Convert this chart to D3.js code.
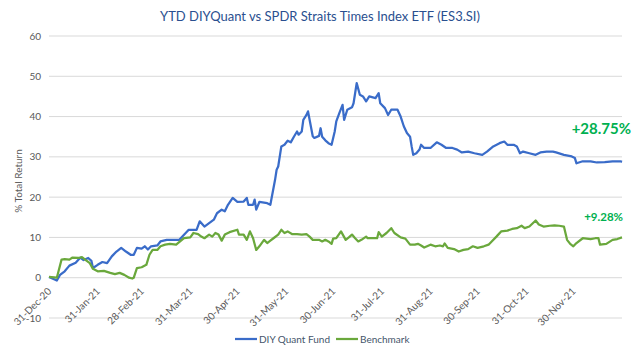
<!doctype html>
<html>
  <head>
    <script src="https://d3js.org/d3.v7.min.js"></script>
    <style>
      body { margin: 0; background: #fff; }
      text { font-family: Lato, "Open Sans", sans-serif; }
    </style>
  </head>
  <body>
    <svg id="chart" width="639" height="352"></svg>
    <script>
      // fund series (date, % total return)
      var fundDates = ["2020-12-31","2021-01-05","2021-01-07","2021-01-10","2021-01-13","2021-01-17","2021-01-20","2021-01-22","2021-01-25","2021-01-27","2021-01-28","2021-01-31",
        "2021-02-03","2021-02-06","2021-02-09","2021-02-12","2021-02-15","2021-02-18","2021-02-21","2021-02-23","2021-02-25","2021-02-28",
        "2021-03-02","2021-03-04","2021-03-06","2021-03-10","2021-03-12","2021-03-16","2021-03-20","2021-03-24","2021-03-30",
        "2021-04-04","2021-04-06","2021-04-09","2021-04-15","2021-04-17","2021-04-20","2021-04-22","2021-04-24","2021-04-27","2021-04-30",
        "2021-05-04","2021-05-06","2021-05-07","2021-05-10","2021-05-11","2021-05-12","2021-05-14","2021-05-19","2021-05-21","2021-05-24","2021-05-25","2021-05-26","2021-05-28","2021-05-30",
        "2021-06-01","2021-06-03","2021-06-05","2021-06-07","2021-06-08","2021-06-10","2021-06-11","2021-06-13","2021-06-14","2021-06-15","2021-06-17","2021-06-18","2021-06-21","2021-06-22","2021-06-23","2021-06-25","2021-06-27","2021-06-29",
        "2021-07-01","2021-07-02","2021-07-04","2021-07-06","2021-07-07","2021-07-09","2021-07-12","2021-07-13","2021-07-14","2021-07-15","2021-07-17","2021-07-19","2021-07-21","2021-07-23","2021-07-27","2021-07-29","2021-07-30",
        "2021-08-02","2021-08-04","2021-08-06","2021-08-10","2021-08-12","2021-08-14","2021-08-16","2021-08-18","2021-08-19","2021-08-20","2021-08-22","2021-08-24","2021-08-25","2021-08-27","2021-08-31",
        "2021-09-04","2021-09-07","2021-09-10","2021-09-14","2021-09-17","2021-09-20","2021-09-24","2021-09-28",
        "2021-10-03","2021-10-06","2021-10-10","2021-10-14","2021-10-17","2021-10-19","2021-10-23","2021-10-25","2021-10-27","2021-10-29",
        "2021-11-02","2021-11-06","2021-11-09","2021-11-13","2021-11-17","2021-11-19","2021-11-24","2021-11-29",
        "2021-12-01","2021-12-02","2021-12-06","2021-12-11","2021-12-15","2021-12-20","2021-12-25","2021-12-30","2021-12-31"];
      var fundValues = [0.2,-0.7,0.7,1.6,3.0,3.7,5.0,4.4,4.9,4.2,2.4,3.2,
        3.9,3.6,5.3,6.5,7.4,6.5,5.7,5.7,7.4,7.2,
        7.8,7.0,7.8,8.0,9.0,9.4,9.4,9.4,11.9,
        11.9,14.0,12.7,14.4,16.0,16.9,16.5,18.1,19.8,18.8,
        18.9,19.8,18.1,18.1,19.4,16.9,18.8,18.5,18.1,24.3,26.8,27.6,32.6,33.0,
        34.0,33.6,35.0,36.3,35.5,36.3,39.2,40.4,41.3,39.2,35.1,34.7,35.2,37.1,35.0,34.1,33.4,33.0,
        36.3,38.8,40.9,42.9,39.2,41.7,42.3,43.3,45.8,48.3,45.4,45.0,43.8,45.0,44.6,45.8,43.3,
        42.1,40.4,41.7,41.7,40.0,37.6,35.9,35.0,32.6,30.5,30.9,31.8,33.0,32.2,32.2,
        33.6,33.0,32.2,32.2,31.8,31.1,31.3,30.9,
        30.5,31.3,32.6,33.4,33.8,33.0,33.0,32.6,30.9,31.3,
        30.9,30.5,31.1,31.3,31.3,31.1,30.5,30.1,
        29.7,28.4,28.9,28.9,28.6,28.7,28.9,28.9,28.75];

      // benchmark series (date, % total return)
      var benchDates = ["2020-12-31","2021-01-05","2021-01-08","2021-01-10","2021-01-13","2021-01-15","2021-01-19","2021-01-21","2021-01-23","2021-01-26","2021-01-28","2021-01-31",
        "2021-02-04","2021-02-08","2021-02-11","2021-02-14","2021-02-17","2021-02-20","2021-02-22","2021-02-23","2021-02-25","2021-02-28",
        "2021-03-03","2021-03-05","2021-03-07","2021-03-10","2021-03-12","2021-03-15","2021-03-18","2021-03-22","2021-03-27","2021-03-31",
        "2021-04-02","2021-04-05","2021-04-07","2021-04-09","2021-04-12","2021-04-14","2021-04-16","2021-04-18","2021-04-20","2021-04-22","2021-04-25","2021-04-30",
        "2021-05-01","2021-05-04","2021-05-06","2021-05-08","2021-05-10","2021-05-12","2021-05-14","2021-05-17","2021-05-19","2021-05-21","2021-05-23","2021-05-26","2021-05-28","2021-05-30",
        "2021-06-01","2021-06-04","2021-06-07","2021-06-10","2021-06-13","2021-06-15","2021-06-17","2021-06-21","2021-06-23","2021-06-25","2021-06-27","2021-06-29","2021-06-30",
        "2021-07-02","2021-07-05","2021-07-08","2021-07-10","2021-07-12","2021-07-14","2021-07-16","2021-07-18","2021-07-21","2021-07-22","2021-07-28","2021-07-29","2021-07-31",
        "2021-08-03","2021-08-06","2021-08-08","2021-08-12","2021-08-15","2021-08-18","2021-08-21","2021-08-23","2021-08-25","2021-08-27","2021-08-31",
        "2021-09-03","2021-09-06","2021-09-08","2021-09-09","2021-09-11","2021-09-15","2021-09-18","2021-09-21","2021-09-24","2021-09-27","2021-09-30",
        "2021-10-04","2021-10-07","2021-10-09","2021-10-12","2021-10-15","2021-10-19","2021-10-22","2021-10-25","2021-10-28","2021-10-30",
        "2021-11-02","2021-11-06","2021-11-08","2021-11-11","2021-11-15","2021-11-18","2021-11-21","2021-11-24","2021-11-26","2021-11-28","2021-11-30",
        "2021-12-02","2021-12-06","2021-12-11","2021-12-14","2021-12-16","2021-12-17","2021-12-21","2021-12-25","2021-12-28","2021-12-31"];
      var benchValues = [0.2,0.0,4.5,4.6,4.5,5.0,4.9,5.1,4.5,3.6,2.2,1.6,
        1.7,1.2,0.9,1.2,0.7,0.0,-0.2,0.0,2.4,2.6,
        3.2,5.7,6.9,6.9,7.8,8.2,8.4,8.2,9.8,10.0,
        11.1,10.8,10.2,9.8,10.7,10.2,11.1,10.7,9.2,10.7,11.3,11.9,
        10.7,10.7,9.4,11.5,9.8,6.9,7.8,9.4,8.6,9.2,9.8,10.7,11.9,11.1,
        11.5,10.8,10.8,10.7,10.8,10.2,9.4,9.4,9.0,9.4,9.0,8.4,9.7,
        9.8,11.5,9.4,10.0,10.7,9.8,9.0,9.4,10.2,9.8,9.8,11.3,10.2,
        11.1,12.3,11.1,10.0,9.7,8.2,8.2,8.4,8.0,7.5,8.2,
        7.8,8.0,7.8,8.5,7.4,7.1,6.5,6.9,7.1,7.8,7.4,
        7.8,8.2,9.0,10.2,11.5,11.7,12.1,12.3,12.9,12.3,
        12.7,14.2,13.2,12.7,12.9,13.0,12.9,12.7,9.4,8.4,7.8,
        8.6,9.8,9.6,9.8,9.8,8.2,8.4,9.4,9.6,10.0];

      var yTicks = [-10, 0, 10, 20, 30, 40, 50, 60];
      var xTickDates = ["2020-12-31","2021-01-31","2021-02-28","2021-03-31","2021-04-30","2021-05-31","2021-06-30","2021-07-31","2021-08-31","2021-09-30","2021-10-31","2021-11-30"];
      var xTickLabels = ["31-Dec-20","31-Jan-21","28-Feb-21","31-Mar-21","30-Apr-21","31-May-21","30-Jun-21","31-Jul-21","31-Aug-21","30-Sep-21","31-Oct-21","30-Nov-21"];
      var seriesNames = ["DIY Quant Fund", "Benchmark"];
      var seriesColors = ["#3a6cc9", "#6aa83c"];
      var endLabels = ["+28.75%", "+9.28%"];

      var parse = d3.timeParse("%Y-%m-%d");
      var svg = d3.select("#chart");

      var x = d3.scaleTime()
        .domain([parse("2020-12-31"), parse("2021-12-31")])
        .range([49, 622]);
      var y = d3.scaleLinear()
        .domain([-10, 60])
        .range([318, 36]);

      // title
      svg.append("text")
        .attr("x", 320).attr("y", 21)
        .attr("text-anchor", "middle")
        .style("font-size", "13px")
        .style("fill", "#2a4f8f")
        .text("YTD DIYQuant vs SPDR Straits Times Index ETF (ES3.SI)");

      // gridlines
      svg.append("g").selectAll("line")
        .data(yTicks).enter().append("line")
          .attr("x1", 49).attr("x2", 622)
          .attr("y1", function(d) { return y(d) })
          .attr("y2", function(d) { return y(d) })
          .attr("stroke", "#d9d9d9").attr("stroke-width", 1);

      // y labels
      svg.append("g").selectAll("text")
        .data(yTicks).enter().append("text")
          .attr("x", 41)
          .attr("y", function(d) { return y(d) + 3.5 })
          .attr("text-anchor", "end")
          .style("font-size", "10px")
          .style("fill", "#595959")
          .text(function(d) { return d });

      svg.append("text")
        .attr("transform", "translate(22,181) rotate(-90)")
        .attr("text-anchor", "middle")
        .style("font-size", "10px")
        .style("fill", "#595959")
        .text("% Total Return");

      // x labels, rotated
      svg.append("g").selectAll("text")
        .data(xTickDates).enter().append("text")
          .attr("transform", function(d) { return "translate(" + (x(parse(d)) + 3) + ",292) rotate(-45)" })
          .attr("text-anchor", "end")
          .style("font-size", "10px")
          .style("fill", "#595959")
          .text(function(d, i) { return xTickLabels[i] });

      // lines
      var line = d3.line()
        .x(function(d) { return x(d.date) })
        .y(function(d) { return y(d.value) });

      var series = [
        fundDates.map(function(d, i) { return {date: parse(d), value: fundValues[i]} }),
        benchDates.map(function(d, i) { return {date: parse(d), value: benchValues[i]} })
      ];

      svg.append("g").selectAll("path")
        .data(series).enter().append("path")
          .attr("d", line)
          .attr("fill", "none")
          .attr("stroke", function(d, i) { return seriesColors[i] })
          .attr("stroke-width", 2.25)
          .attr("stroke-linejoin", "round");

      // end annotations
      svg.append("text")
        .attr("x", 631).attr("y", 134)
        .attr("text-anchor", "end")
        .style("font-size", "15px").style("font-weight", "bold")
        .style("fill", "#00b050")
        .text(endLabels[0]);
      svg.append("text")
        .attr("x", 623).attr("y", 221)
        .attr("text-anchor", "end")
        .style("font-size", "11.5px").style("font-weight", "bold")
        .style("fill", "#00b050")
        .text(endLabels[1]);

      // legend
      var legendX = [235, 336];
      var legend = svg.append("g").selectAll("g")
        .data(seriesNames).enter().append("g")
          .attr("transform", function(d, i) { return "translate(" + legendX[i] + ",339)" });
      legend.append("line")
        .attr("x1", 0).attr("x2", 22)
        .attr("stroke", function(d, i) { return seriesColors[i] })
        .attr("stroke-width", 2.25);
      legend.append("text")
        .attr("x", 24).attr("y", 3.5)
        .style("font-size", "10px")
        .style("fill", "#44546a")
        .text(function(d) { return d });
    </script>
  </body>
</html>
